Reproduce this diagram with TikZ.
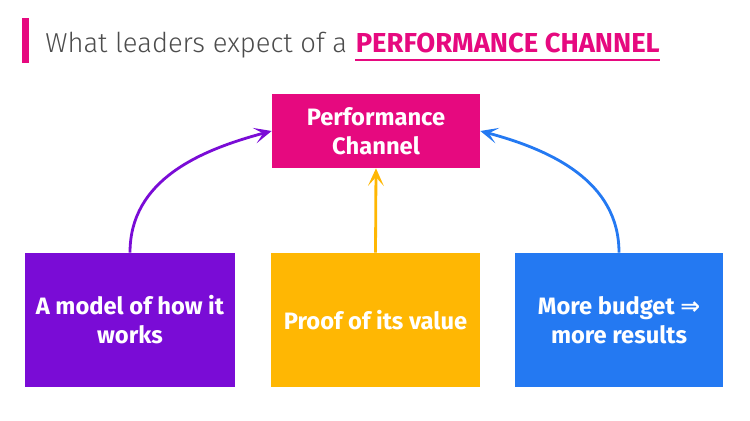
\documentclass[tikz,border=0pt]{standalone}
\usepackage{fontspec}
\setmainfont{Fira Sans}
\newfontfamily\titlefont{Fira Sans Light}
\newfontfamily\symfont{DejaVu Sans}
\usetikzlibrary{arrows.meta}
\usetikzlibrary{positioning}

\definecolor{perfpink}{HTML}{E6097F}
\definecolor{modelpurple}{HTML}{7A0CD6}
\definecolor{proofyellow}{HTML}{FFB703}
\definecolor{budgetblue}{HTML}{2479F2}

\tikzset{
  box/.style={rectangle, text=white, text centered, inner sep=0pt,
    font=\bfseries\fontsize{13.5}{16.5}\selectfont, align=center},
  link/.style={line width=1.6pt, -{Stealth[length=10pt, width=9pt, inset=5pt]}}
}

\begin{document}
\begin{tikzpicture}[x=0.02cm, y=-0.02cm]
\useasboundingbox (0,0) rectangle (750,421);

% title
\fill[perfpink] (22,18) rectangle (29,63);
\node[anchor=base west, inner sep=0pt, text=black!70, font=\titlefont\fontsize{15.6}{19}\selectfont] (title) at (45,53) {What leaders expect of a};
\node[inner sep=0pt, text=perfpink, font=\bfseries\fontsize{15.6}{19}\selectfont, right=4.5pt of title.base east, anchor=base west] (titlekey) {PERFORMANCE CHANNEL};
\draw[perfpink, line width=1.6pt] ([yshift=-4pt]titlekey.base west) -- ([yshift=-4pt]titlekey.base east);

% boxes
\node[box, fill=perfpink, minimum width=4.16cm, minimum height=1.48cm] (perf) at (376,131) {Performance\\Channel};
\node[box, fill=modelpurple, minimum width=4.2cm, minimum height=2.68cm] (model) at (130,320) {A model of how it\\works};
\node[box, fill=proofyellow, minimum width=4.18cm, minimum height=2.68cm] (proof) at (375.5,320) {Proof of its value};
\node[box, fill=budgetblue, minimum width=4.16cm, minimum height=2.68cm] (budget) at (619,320) {More budget {\symfont\bfseries ⇒}\\more results};

% arrows
\path[link, draw=modelpurple] (model.north) edge[out=90, in=195] (perf.west);
\path[link, draw=proofyellow] (proof.north) edge (perf.south);
\path[link, draw=budgetblue] (budget.north) edge[out=90, in=-15] (perf.east);
\end{tikzpicture}
\end{document}
